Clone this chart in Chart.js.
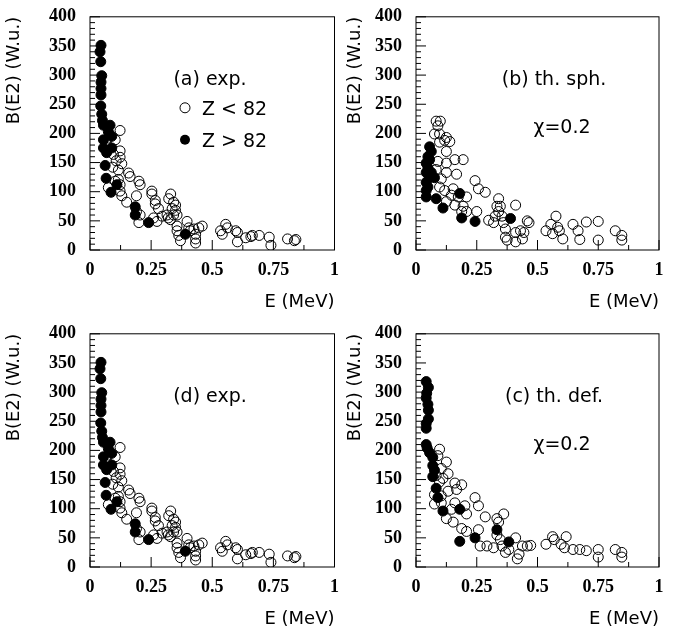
<!DOCTYPE html>
<html><head><meta charset="utf-8">
<script src="https://cdn.jsdelivr.net/npm/chart.js@4"></script>
<style>
body{margin:0;background:#fff;width:683px;height:634px;position:relative;overflow:hidden}
canvas{position:absolute}
</style></head><body>
<canvas id="pa" style="left:0;top:0;width:341px;height:317px" width="341" height="317"></canvas>
<canvas id="pb" style="left:341px;top:0;width:342px;height:317px" width="342" height="317"></canvas>
<canvas id="pd" style="left:0;top:317px;width:341px;height:317px" width="341" height="317"></canvas>
<canvas id="pc" style="left:341px;top:317px;width:342px;height:317px" width="342" height="317"></canvas>
<script>
// experimental data, used for (a) and (d)
const expOpenE = [0.123,0.075,0.103,0.096,0.123,0.123,0.13,0.107,0.093,0.116,0.158,0.164,0.116,0.123,0.103,0.123,0.075,0.13,0.15,0.19,0.2,0.205,0.19,0.205,0.2,0.253,0.253,0.267,0.267,0.28,0.295,0.315,0.32,0.33,0.322,0.342,0.35,0.336,0.35,0.342,0.329,0.356,0.356,0.356,0.363,0.37,0.397,0.404,0.41,0.425,0.432,0.432,0.432,0.445,0.459,0.274,0.26,0.534,0.541,0.555,0.562,0.596,0.603,0.603,0.637,0.658,0.664,0.692,0.733,0.74,0.808,0.836,0.842];
const expOpenB = [205,192,189,164,170,159,148,153,142,137,132,126,121,112,118,101,107,93,82,93,118,112,66,60,47,96,101,85,79,71,58,60,55,96,88,82,77,71,68,60,52,60,41,33,25,16,49,38,33,36,27,19,12,38,41,49,55,33,27,44,38,33,30,14,21,23,25,25,22,8,19,16,18];
const expFullE = [0.045,0.041,0.044,0.048,0.045,0.045,0.045,0.044,0.048,0.051,0.055,0.082,0.075,0.089,0.055,0.055,0.089,0.068,0.062,0.066,0.086,0.11,0.185,0.185,0.24,0.39];
const expFullB = [351,340,323,299,288,277,266,247,233,222,214,214,203,195,189,175,175,167,145,123,99,112,74,60,47,27];

// theory, spherical (b)
const sphOpenE = [0.083,0.1,0.09,0.076,0.097,0.125,0.118,0.139,0.097,0.125,0.16,0.194,0.125,0.09,0.083,0.125,0.167,0.104,0.097,0.118,0.153,0.146,0.174,0.208,0.16,0.194,0.188,0.208,0.243,0.257,0.285,0.125,0.25,0.299,0.319,0.326,0.34,0.347,0.333,0.34,0.354,0.36,0.368,0.368,0.375,0.41,0.41,0.41,0.43,0.438,0.444,0.458,0.465,0.535,0.555,0.562,0.576,0.583,0.59,0.604,0.646,0.667,0.674,0.701,0.75,0.75,0.82,0.847,0.847];
const sphOpenB = [221,221,213,199,199,193,188,186,185,169,155,155,149,152,138,133,130,122,108,102,105,94,91,91,77,75,66,66,119,105,99,83,66,51,47,58,88,75,75,66,58,47,36,22,17,77,30,14,33,19,30,50,47,33,44,28,58,39,33,19,44,33,18,48,49,17,33,25,17];
const sphFullE = [0.056,0.063,0.049,0.056,0.042,0.049,0.042,0.063,0.056,0.042,0.049,0.042,0.042,0.083,0.111,0.18,0.188,0.243,0.389,0.076];
const sphFullB = [177,169,160,155,149,141,133,133,124,116,108,102,91,88,72,97,55,49,54,124];

// theory, deformed (c)
const defOpenE = [0.097,0.09,0.125,0.104,0.132,0.083,0.111,0.16,0.188,0.097,0.167,0.132,0.076,0.104,0.076,0.104,0.16,0.243,0.257,0.201,0.146,0.208,0.125,0.153,0.188,0.208,0.257,0.264,0.285,0.292,0.319,0.333,0.361,0.34,0.333,0.347,0.354,0.368,0.382,0.41,0.417,0.424,0.438,0.458,0.472,0.535,0.562,0.569,0.597,0.618,0.611,0.646,0.674,0.701,0.75,0.75,0.82,0.847,0.847];
const defOpenB = [202,191,180,169,160,157,152,144,141,146,133,130,124,122,108,110,110,119,105,105,99,91,83,77,66,61,64,36,86,36,33,83,91,77,55,47,36,25,30,50,14,22,36,36,37,39,52,47,39,52,33,30,30,28,30,17,30,25,17];
const defFullE = [0.042,0.051,0.044,0.042,0.049,0.051,0.051,0.042,0.042,0.042,0.046,0.056,0.069,0.069,0.076,0.069,0.083,0.09,0.111,0.18,0.18,0.243,0.333,0.382];
const defFullB = [318,308,298,290,279,269,254,246,238,210,204,196,188,174,166,155,135,119,96,99,44,50,64,43];

const xTicks = [0, 0.25, 0.5, 0.75, 1];
const yTicks = [0, 50, 100, 150, 200, 250, 300, 350, 400];

function pts(xs, ys) { return xs.map((x, i) => ({x: x, y: ys[i]})); }

const inTicks = {
  id: 'inTicks',
  afterDraw(chart) {
    const c = chart.ctx, a = chart.chartArea, xs = chart.scales.x, ys = chart.scales.y;
    c.save();
    c.strokeStyle = '#000'; c.lineWidth = 1;
    c.strokeRect(a.left, a.top, a.right - a.left, a.bottom - a.top);
    c.beginPath();
    for (let v = 0; v <= 400; v += 10) {
      const p = ys.getPixelForValue(v), len = v % 50 === 0 ? 10 : 5;
      c.moveTo(a.left, p); c.lineTo(a.left + len, p);
    }
    for (let v = 0; v <= 8; v++) {
      const p = xs.getPixelForValue(v / 8), len = v % 2 === 0 ? 10 : 5;
      c.moveTo(p, a.bottom); c.lineTo(p, a.bottom - len);
    }
    c.stroke();
    const o = chart.options.plugins.inTicks;
    c.fillStyle = '#000'; c.font = '19px "DejaVu Sans"'; c.textAlign = 'center';
    o.lines.forEach((t, i) => c.fillText(t, a.left + o.cx + i * 8, a.top + 68 + i * 48));
    c.restore();
  }
};

function panel(id, openD, fullD, lines, yw, cx, legend) {
  new Chart(document.getElementById(id), {
    type: 'scatter',
    data: {datasets: [
      {label: 'Z < 82', data: openD, pointRadius: 5, pointBackgroundColor: 'rgba(0,0,0,0)', pointBorderColor: '#000', pointBorderWidth: 1},
      {label: 'Z > 82', data: fullD, pointRadius: 5, pointBackgroundColor: '#000', pointBorderColor: '#000', pointBorderWidth: 1}
    ]},
    options: {
      responsive: false, animation: false,
      layout: {padding: {top: 7, right: id === 'pa' || id === 'pd' ? 6 : 24}},
      plugins: {
        legend: {display: false}, tooltip: {enabled: false},
        inTicks: {lines: lines, cx: cx}
      },
      scales: {
        x: {min: 0, max: 1, afterBuildTicks: s => { s.ticks = xTicks.map(v => ({value: v})); },
            afterFit: s => { s.height = 67; },
            grid: {display: false}, border: {display: false},
            ticks: {color: '#000', font: {family: 'Liberation Serif', weight: 'bold', size: 18}, padding: 2, callback: v => String(v)},
            title: {display: true, text: 'E (MeV)', align: 'end', color: '#000', font: {family: 'DejaVu Sans', size: 18}, padding: {top: 2}}},
        y: {min: 0, max: 400, afterBuildTicks: s => { s.ticks = yTicks.map(v => ({value: v})); },
            afterFit: s => { s.width = yw; },
            grid: {display: false}, border: {display: false},
            ticks: {color: '#000', font: {family: 'Liberation Serif', weight: 'bold', size: 18}, padding: 6},
            title: {display: true, text: 'B(E2) (W.u.)', align: 'end', color: '#000', font: {family: 'DejaVu Sans', size: 18}, padding: {bottom: 2}}}
      }
    },
    plugins: [inTicks, legend ? {
      id: 'leg',
      afterDraw(chart) {
        const c = chart.ctx, a = chart.chartArea;
        c.save(); c.fillStyle = '#000'; c.strokeStyle = '#000'; c.lineWidth = 1;
        c.font = '19px "DejaVu Sans"'; c.textAlign = 'left';
        c.beginPath(); c.arc(a.left + 95, a.top + 91, 5, 0, 7); c.stroke();
        c.fillText('Z < 82', a.left + 112, a.top + 98);
        c.beginPath(); c.arc(a.left + 95, a.top + 123, 5, 0, 7); c.fill();
        c.fillText('Z > 82', a.left + 112, a.top + 130);
        c.restore();
      }
    } : {id: 'none'}]
  });
}

panel('pa', pts(expOpenE, expOpenB), pts(expFullE, expFullB), ['(a) exp.'], 90, 120, true);
panel('pb', pts(sphOpenE, sphOpenB), pts(sphFullE, sphFullB), ['(b) th. sph.', 'χ=0.2'], 75, 138, false);
panel('pd', pts(expOpenE, expOpenB), pts(expFullE, expFullB), ['(d) exp.'], 90, 120, false);
panel('pc', pts(defOpenE, defOpenB), pts(defFullE, defFullB), ['(c) th. def.', 'χ=0.2'], 75, 138, false);
</script></body></html>
